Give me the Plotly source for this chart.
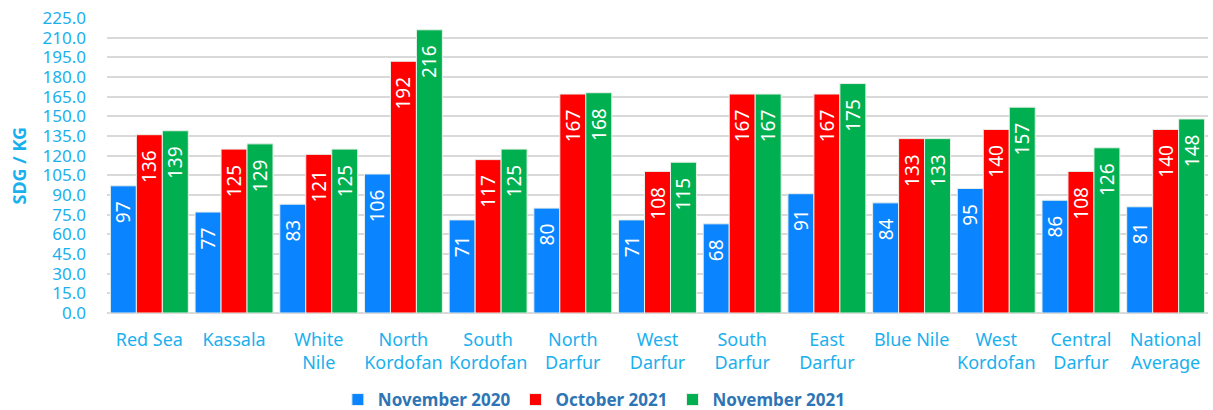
import plotly.graph_objects as go

categories = ["Red Sea", "Kassala", "White<br>Nile", "North<br>Kordofan", "South<br>Kordofan",
              "North<br>Darfur", "West<br>Darfur", "South<br>Darfur", "East<br>Darfur",
              "Blue Nile", "West<br>Kordofan", "Central<br>Darfur", "National<br>Average"]
nov2020 = [97, 77, 83, 106, 71, 80, 71, 68, 91, 84, 95, 86, 81]
oct2021 = [136, 125, 121, 192, 117, 167, 108, 167, 167, 133, 140, 108, 140]
nov2021 = [139, 129, 125, 216, 125, 168, 115, 167, 175, 133, 157, 126, 148]
series_names = ["November 2020", "October 2021", "November 2021"]
colors = ["#0A84FF", "#FF0000", "#00B050"]
tickvals = [i * 15 for i in range(16)]
ticktext = [f"{v:.1f}" for v in tickvals]

fig = go.Figure()
for name, vals, col in zip(series_names, [nov2020, oct2021, nov2021], colors):
    fig.add_trace(go.Bar(
        x=categories, y=vals, name=name, marker_color=col,
        marker_line=dict(color="#E8F0E8", width=1),
        text=[f"{v}\u2002\u2009" for v in vals], textposition="inside", insidetextanchor="end",
        textangle=-90, textfont=dict(color="white", size=19, family="Noto Sans"),
        cliponaxis=False,
    ))

fig.update_layout(
    width=1213, height=410,
    margin=dict(l=107, r=5, t=18, b=97, autoexpand=False),
    barmode="group", bargap=0.08, bargroupgap=0,
    plot_bgcolor="white", paper_bgcolor="white",
    font=dict(family="Noto Sans", color="#1AB0EE"),
    uniformtext=dict(minsize=19, mode="show"),
    legend=dict(orientation="h", x=0.49, xref="container", xanchor="center",
                y=10 / 410, yref="container", yanchor="middle",
                font=dict(size=17, color="#2E75B6", family="Noto Sans", weight="bold"),
                itemwidth=30, traceorder="normal"),
    showlegend=True,
    annotations=[dict(text="<b>SDG / KG</b>", xref="paper", yref="paper",
                      x=(18 - 107) / 1101, y=0.5, xanchor="center", yanchor="middle",
                      textangle=-90, showarrow=False,
                      font=dict(size=18, color="#1AB0EE", family="Noto Sans"))],
)
fig.update_yaxes(range=[0, 225], tickvals=tickvals, ticktext=ticktext, automargin=False,
                 tickfont=dict(size=17, color="#1AB0EE"), ticklabelstandoff=20,
                 gridcolor="#D9D9D9", gridwidth=1.5, zeroline=True, zerolinecolor="#D9D9D9",
                 zerolinewidth=1.5, ticks="", ticklen=0)
fig.update_xaxes(tickfont=dict(size=18, color="#1AB0EE"), showgrid=False, ticks="",
                 automargin=False, ticklabelstandoff=14)
fig.write_html("out.html", config={"displayModeBar": False},
               post_script="document.body.style.margin='0';document.body.style.overflow='hidden';")
